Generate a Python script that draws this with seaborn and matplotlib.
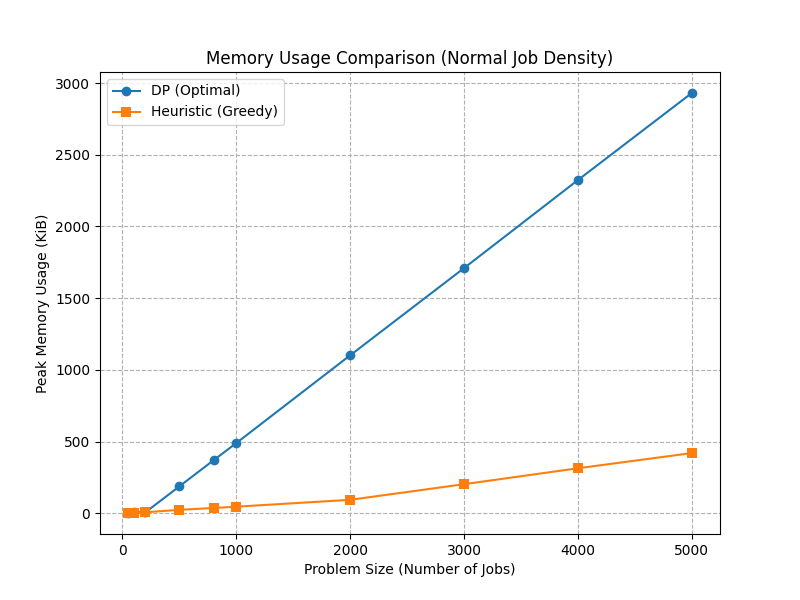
import matplotlib
matplotlib.use("Agg")
import matplotlib.pyplot as plt
import seaborn as sns
import pandas as pd

sizes = [50, 100, 200, 500, 800, 1000, 2000, 3000, 4000, 5000]
dp_mem = [3, 10, 6, 188, 370, 490, 1102, 1710, 2324, 2931]
heur_mem = [2, 3, 7, 24, 37, 46, 94, 203, 314, 420]

fig, ax = plt.subplots(figsize=(8, 6), dpi=100)
sns.lineplot(x=sizes, y=dp_mem, marker='o', markersize=7, markeredgewidth=0,
             color='#1f77b4', label='DP (Optimal)', ax=ax)
sns.lineplot(x=sizes, y=heur_mem, marker='s', markersize=7, markeredgewidth=0,
             color='#ff7f0e', label='Heuristic (Greedy)', ax=ax)
ax.set_title('Memory Usage Comparison (Normal Job Density)')
ax.set_xlabel('Problem Size (Number of Jobs)')
ax.set_ylabel('Peak Memory Usage (KiB)')
ax.grid(True, linestyle='--', color='#b0b0b0')
ax.legend(loc='upper left')
fig.savefig('out.png', dpi=100)
